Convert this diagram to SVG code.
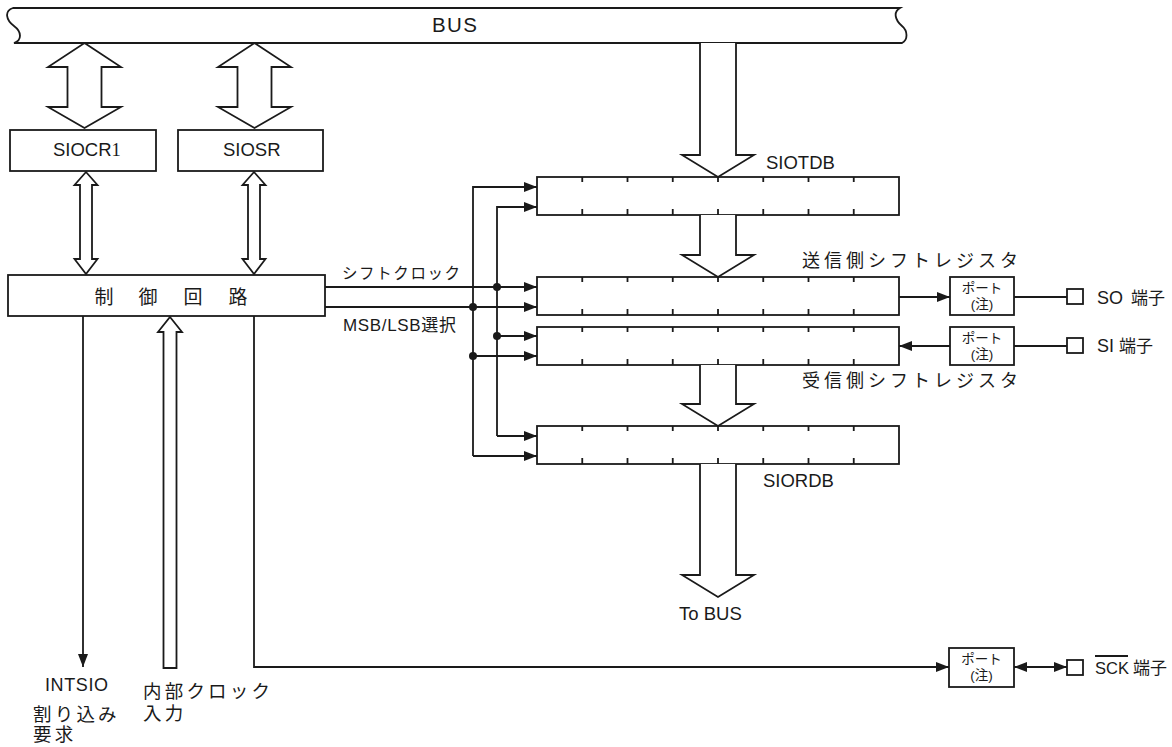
<svg xmlns="http://www.w3.org/2000/svg" width="1172" height="747" viewBox="0 0 1172 747">
<style>
.ln{fill:none;stroke:#1a1a1a;stroke-width:1.8}
.bx{fill:#fff;stroke:#1a1a1a;stroke-width:1.8}
.ha{fill:#fff;stroke:#1a1a1a;stroke-width:1.8;stroke-linejoin:miter}
.tk{stroke:#1a1a1a;stroke-width:1.8}
text{font-family:"Liberation Sans","Noto Sans CJK JP",sans-serif;fill:#1a1a1a}
.l18{font-size:18.5px}
.cj{font-size:18.5px;letter-spacing:3.2px}
.pt{font-size:13.5px;text-anchor:middle}
.dot{fill:#1a1a1a}
</style>
<defs>
<marker id="ah" markerUnits="userSpaceOnUse" markerWidth="14" markerHeight="10" refX="13" refY="5" orient="auto-start-reverse">
<path d="M0,0 L13,5 L0,10 Z" fill="#1a1a1a"/>
</marker>
<g id="reg">
<rect x="0" y="0" width="362" height="38" class="bx"/>
<path class="tk" d="M45.25,0v5M90.5,0v5M135.75,0v5M181,0v5M226.25,0v5M271.5,0v5M316.75,0v5M45.25,38v-6M90.5,38v-6M135.75,38v-6M181,38v-6M226.25,38v-6M271.5,38v-6M316.75,38v-6"/>
</g>
</defs>

<g id="bus">
<path class="ln" d="M13,8 L900,8 C893,12 895,20 902,26 C908,31 908,40 902,43 L14,43 C22,40 22,32 14,26 C6,20 4,11 13,8 Z" fill="#fff"/>
<text x="432" y="32" font-size="20.5" textLength="45">BUS</text>
</g>

<g id="siocr1">
<rect class="bx" x="10" y="130" width="146" height="41"/>
<text class="l18" x="53" y="156">SIOCR<tspan font-family="Liberation Serif">1</tspan></text>
</g>
<g id="siosr">
<rect class="bx" x="178" y="130" width="145" height="41"/>
<text class="l18" x="223" y="156">SIOSR</text>
</g>

<g id="control">
<rect class="bx" x="8" y="275" width="317" height="41"/>
<text font-size="19" y="304" text-anchor="middle"><tspan x="104">制</tspan><tspan x="148">御</tspan><tspan x="193">回</tspan><tspan x="238">路</tspan></text>
</g>

<g id="siotdb">
<use href="#reg" x="537" y="177"/>
<text class="l18" x="766" y="169">SIOTDB</text>
</g>
<g id="tx-shift">
<use href="#reg" x="537" y="277"/>
<text font-size="18" letter-spacing="4" x="802" y="267">送信側シフトレジスタ</text>
</g>
<g id="rx-shift">
<use href="#reg" x="537" y="327"/>
<text font-size="18" letter-spacing="4" x="802" y="387">受信側シフトレジスタ</text>
</g>
<g id="siordb">
<use href="#reg" x="537" y="426"/>
<text class="l18" x="763" y="487">SIORDB</text>
</g>

<g id="port-so">
<rect class="bx" x="950" y="277" width="64" height="38"/>
<text class="pt" x="982" y="293">ポート</text>
<text class="pt" x="982" y="309">(注)</text>
</g>
<g id="port-si">
<rect class="bx" x="950" y="327" width="64" height="38"/>
<text class="pt" x="982" y="343">ポート</text>
<text class="pt" x="982" y="359">(注)</text>
</g>
<g id="port-sck">
<rect class="bx" x="949" y="648" width="65" height="39"/>
<text class="pt" x="981.5" y="664">ポート</text>
<text class="pt" x="981.5" y="680">(注)</text>
</g>

<g id="so-pin">
<rect class="bx" x="1067" y="289" width="16" height="15"/>
<text x="1097" y="304" font-size="18">SO</text>
<text x="1131" y="304" font-size="17">端子</text>
</g>
<g id="si-pin">
<rect class="bx" x="1067" y="338" width="16" height="15"/>
<text x="1097" y="352" font-size="18">SI</text>
<text x="1119" y="352" font-size="17">端子</text>
</g>
<g id="sck-pin">
<rect class="bx" x="1067" y="660" width="16" height="15"/>
<text x="1095" y="674" font-size="16.5">SCK</text>
<line class="ln" x1="1095" y1="656" x2="1128" y2="656"/>
<text x="1133" y="674" font-size="17">端子</text>
</g>

<g id="connectors">
<path class="ha" d="M84.5,43 L121,67 L101.5,67 L101.5,107 L121,107 L84.5,128 L48,107 L67.5,107 L67.5,67 L48,67 Z"/>
<path class="ha" d="M254.5,43 L291,67 L271.5,67 L271.5,107 L291,107 L254.5,128 L218,107 L237.5,107 L237.5,67 L218,67 Z"/>
<path class="ha" d="M86,172 L97.5,185 L92,185 L92,259 L97.5,259 L86,274 L74.5,259 L80,259 L80,185 L74.5,185 Z"/>
<path class="ha" d="M254,172 L265.5,185 L260,185 L260,259 L265.5,259 L254,274 L242.5,259 L248,259 L248,185 L242.5,185 Z"/>
<path class="ha" d="M170,317 L182,332 L176.5,332 L176.5,668 L163.5,668 L163.5,332 L158,332 Z"/>
<path class="ha" d="M700,43 V155 H682 L718,177 L754,155 H736 V43"/>
<path class="ha" d="M700,215 V255 H682 L718,277 L754,255 H736 V215"/>
<path class="ha" d="M700,365 V404 H682 L718,426 L754,404 H736 V365"/>
<path class="ha" d="M700,464 V575 H682 L718,597 L754,575 H736 V464"/>

<line class="ln" x1="83" y1="316" x2="83" y2="667" marker-end="url(#ah)"/>
<path class="ln" d="M254,316 V667 H949" marker-end="url(#ah)"/>

<line class="ln" x1="325" y1="287" x2="537" y2="287" marker-end="url(#ah)"/>
<line class="ln" x1="325" y1="307" x2="537" y2="307" marker-end="url(#ah)"/>
<path class="ln" d="M473,456 V187 H537" marker-end="url(#ah)"/>
<line class="ln" x1="473" y1="456" x2="537" y2="456" marker-end="url(#ah)"/>
<line class="ln" x1="473" y1="356" x2="537" y2="356" marker-end="url(#ah)"/>
<path class="ln" d="M497,436 V207 H537" marker-end="url(#ah)"/>
<line class="ln" x1="497" y1="436" x2="537" y2="436" marker-end="url(#ah)"/>
<line class="ln" x1="497" y1="336" x2="537" y2="336" marker-end="url(#ah)"/>
<circle class="dot" cx="497" cy="287" r="4"/>
<circle class="dot" cx="497" cy="336" r="4"/>
<circle class="dot" cx="473" cy="307" r="4"/>
<circle class="dot" cx="473" cy="356" r="4"/>

<line class="ln" x1="899" y1="297" x2="950" y2="297" marker-end="url(#ah)"/>
<line class="ln" x1="1014" y1="297" x2="1067" y2="297"/>
<line class="ln" x1="950" y1="346" x2="899" y2="346" marker-end="url(#ah)"/>
<line class="ln" x1="1014" y1="346" x2="1067" y2="346"/>
<line class="ln" x1="1014" y1="667" x2="1067" y2="667" marker-start="url(#ah)" marker-end="url(#ah)"/>
</g>

<g id="labels">
<text font-size="15.5" letter-spacing="1.6" x="342" y="279">シフトクロック</text>
<text font-size="17" x="343" y="331" textLength="113">MSB/LSB選択</text>
<text class="l18" x="679" y="620">To BUS</text>
<text x="45" y="691" font-size="18" textLength="63">INTSIO</text>
<text class="cj" x="33" y="721">割り込み</text>
<text class="cj" x="33" y="741">要求</text>
<text class="cj" x="143" y="698">内部クロック</text>
<text class="cj" x="143" y="720">入力</text>
</g>
</svg>
